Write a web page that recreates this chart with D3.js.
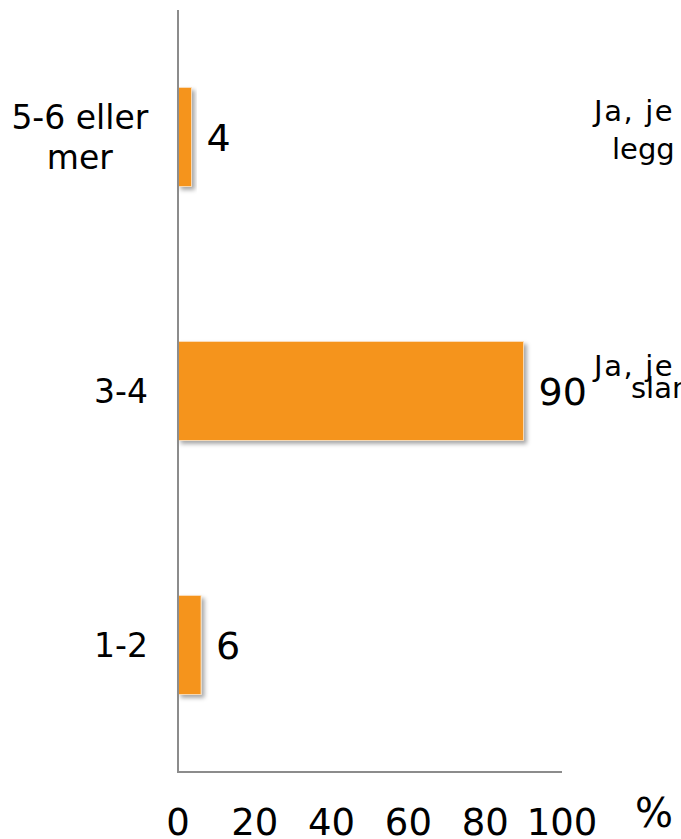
<!DOCTYPE html>
<html>
<head>
<meta charset="utf-8">
<script src="https://cdn.jsdelivr.net/npm/d3@7"></script>
<style>
  html, body { margin: 0; padding: 0; background: #fff; overflow: hidden; }
  svg { display: block; font-family: "DejaVu Sans", Verdana, sans-serif; }
</style>
</head>
<body>
<svg id="chart" width="681" height="839"></svg>
<script>
const categories = ["5-6 eller mer", "3-4", "1-2"];
const categoryLines = [["5-6 eller", "mer"], ["3-4"], ["1-2"]];
const values = [3.5, 90, 6];
const tickValues = [0, 20, 40, 60, 80, 100];
const axisUnit = "%";
const sideTexts = [["Ja, je", "legg"], ["Ja, je", "slan"]];

const svg = d3.select("#chart");
const margin = { left: 178, right: 119, top: 10, bottom: 67 };
const W = 681, H = 839;

const defs = svg.append("defs");
const f = defs.append("filter").attr("id", "shadow")
  .attr("x", "-20%").attr("y", "-20%").attr("width", "160%").attr("height", "160%");
f.append("feDropShadow").attr("dx", 3).attr("dy", 3).attr("stdDeviation", 2)
  .attr("flood-color", "#000").attr("flood-opacity", 0.35);

const x = d3.scaleLinear().domain([0, 100]).range([margin.left, W - margin.right]);
const y = d3.scaleBand().domain(categories).range([margin.top, H - margin.bottom])
  .paddingInner(0.61).paddingOuter(0.305);
const fmt = d3.format(".0f");

// bars
svg.append("g").selectAll("rect").data(values).join("rect")
  .attr("x", x(0))
  .attr("y", (d, i) => y(categories[i]))
  .attr("width", d => x(d) - x(0))
  .attr("height", y.bandwidth())
  .attr("fill", "#F5941F")
  .attr("stroke", "#fbe3c4")
  .attr("stroke-width", 0.8)
  .attr("filter", "url(#shadow)");

// axes lines
svg.append("line").attr("x1", x(0)).attr("x2", x(0))
  .attr("y1", margin.top).attr("y2", H - margin.bottom)
  .attr("stroke", "#8c8c8c").attr("stroke-width", 2);
svg.append("line").attr("x1", x(0) - 1).attr("x2", x(100))
  .attr("y1", H - margin.bottom).attr("y2", H - margin.bottom)
  .attr("stroke", "#8c8c8c").attr("stroke-width", 2);

// x tick labels
svg.append("g").selectAll("text").data(tickValues).join("text")
  .attr("x", d => x(d))
  .attr("y", 835)
  .attr("text-anchor", "middle")
  .attr("font-size", 37)
  .attr("fill", "#000")
  .text(d => d);

svg.append("text").attr("x", 654).attr("y", 827).attr("text-anchor", "middle")
  .attr("font-size", 40).attr("fill", "#000").text(axisUnit);

// value labels
svg.append("g").selectAll("text").data(values).join("text")
  .attr("x", d => x(d) + 15)
  .attr("y", (d, i) => y(categories[i]) + y.bandwidth() / 2 + 14)
  .attr("font-size", 38)
  .attr("fill", "#000")
  .text(d => fmt(d));

// category labels
const catG = svg.append("g");
categoryLines.forEach((lines, i) => {
  const cy = y(categories[i]) + y.bandwidth() / 2;
  const lh = 40;
  const t = catG.append("text").attr("font-size", 33).attr("fill", "#000")
    .attr("text-anchor", "middle");
  const tsp = lines.map((ln) => t.append("tspan").text(ln));
  let maxW = 0;
  tsp.forEach(s => { maxW = Math.max(maxW, s.node().getComputedTextLength()); });
  const cx = 148 - maxW / 2;
  const y0 = cy + 12 - (lines.length - 1) * lh / 2;
  tsp.forEach((s, j) => s.attr("x", cx).attr("y", y0 + j * lh));
});

// cut-off texts from neighbouring chart
const sideG = svg.append("g");
const sideBase = [[121, 159], [376, 398]];
const sideX = [[594, 612], [594, 631]];
sideTexts.forEach((lines, i) => {
  lines.forEach((ln, j) => {
    sideG.append("text").attr("x", sideX[i][j]).attr("y", sideBase[i][j])
      .attr("font-size", 29).attr("fill", "#000")
      .attr("letter-spacing", j === 0 ? 1.6 : 0)
      .text(ln);
  });
});
</script>
</body>
</html>
